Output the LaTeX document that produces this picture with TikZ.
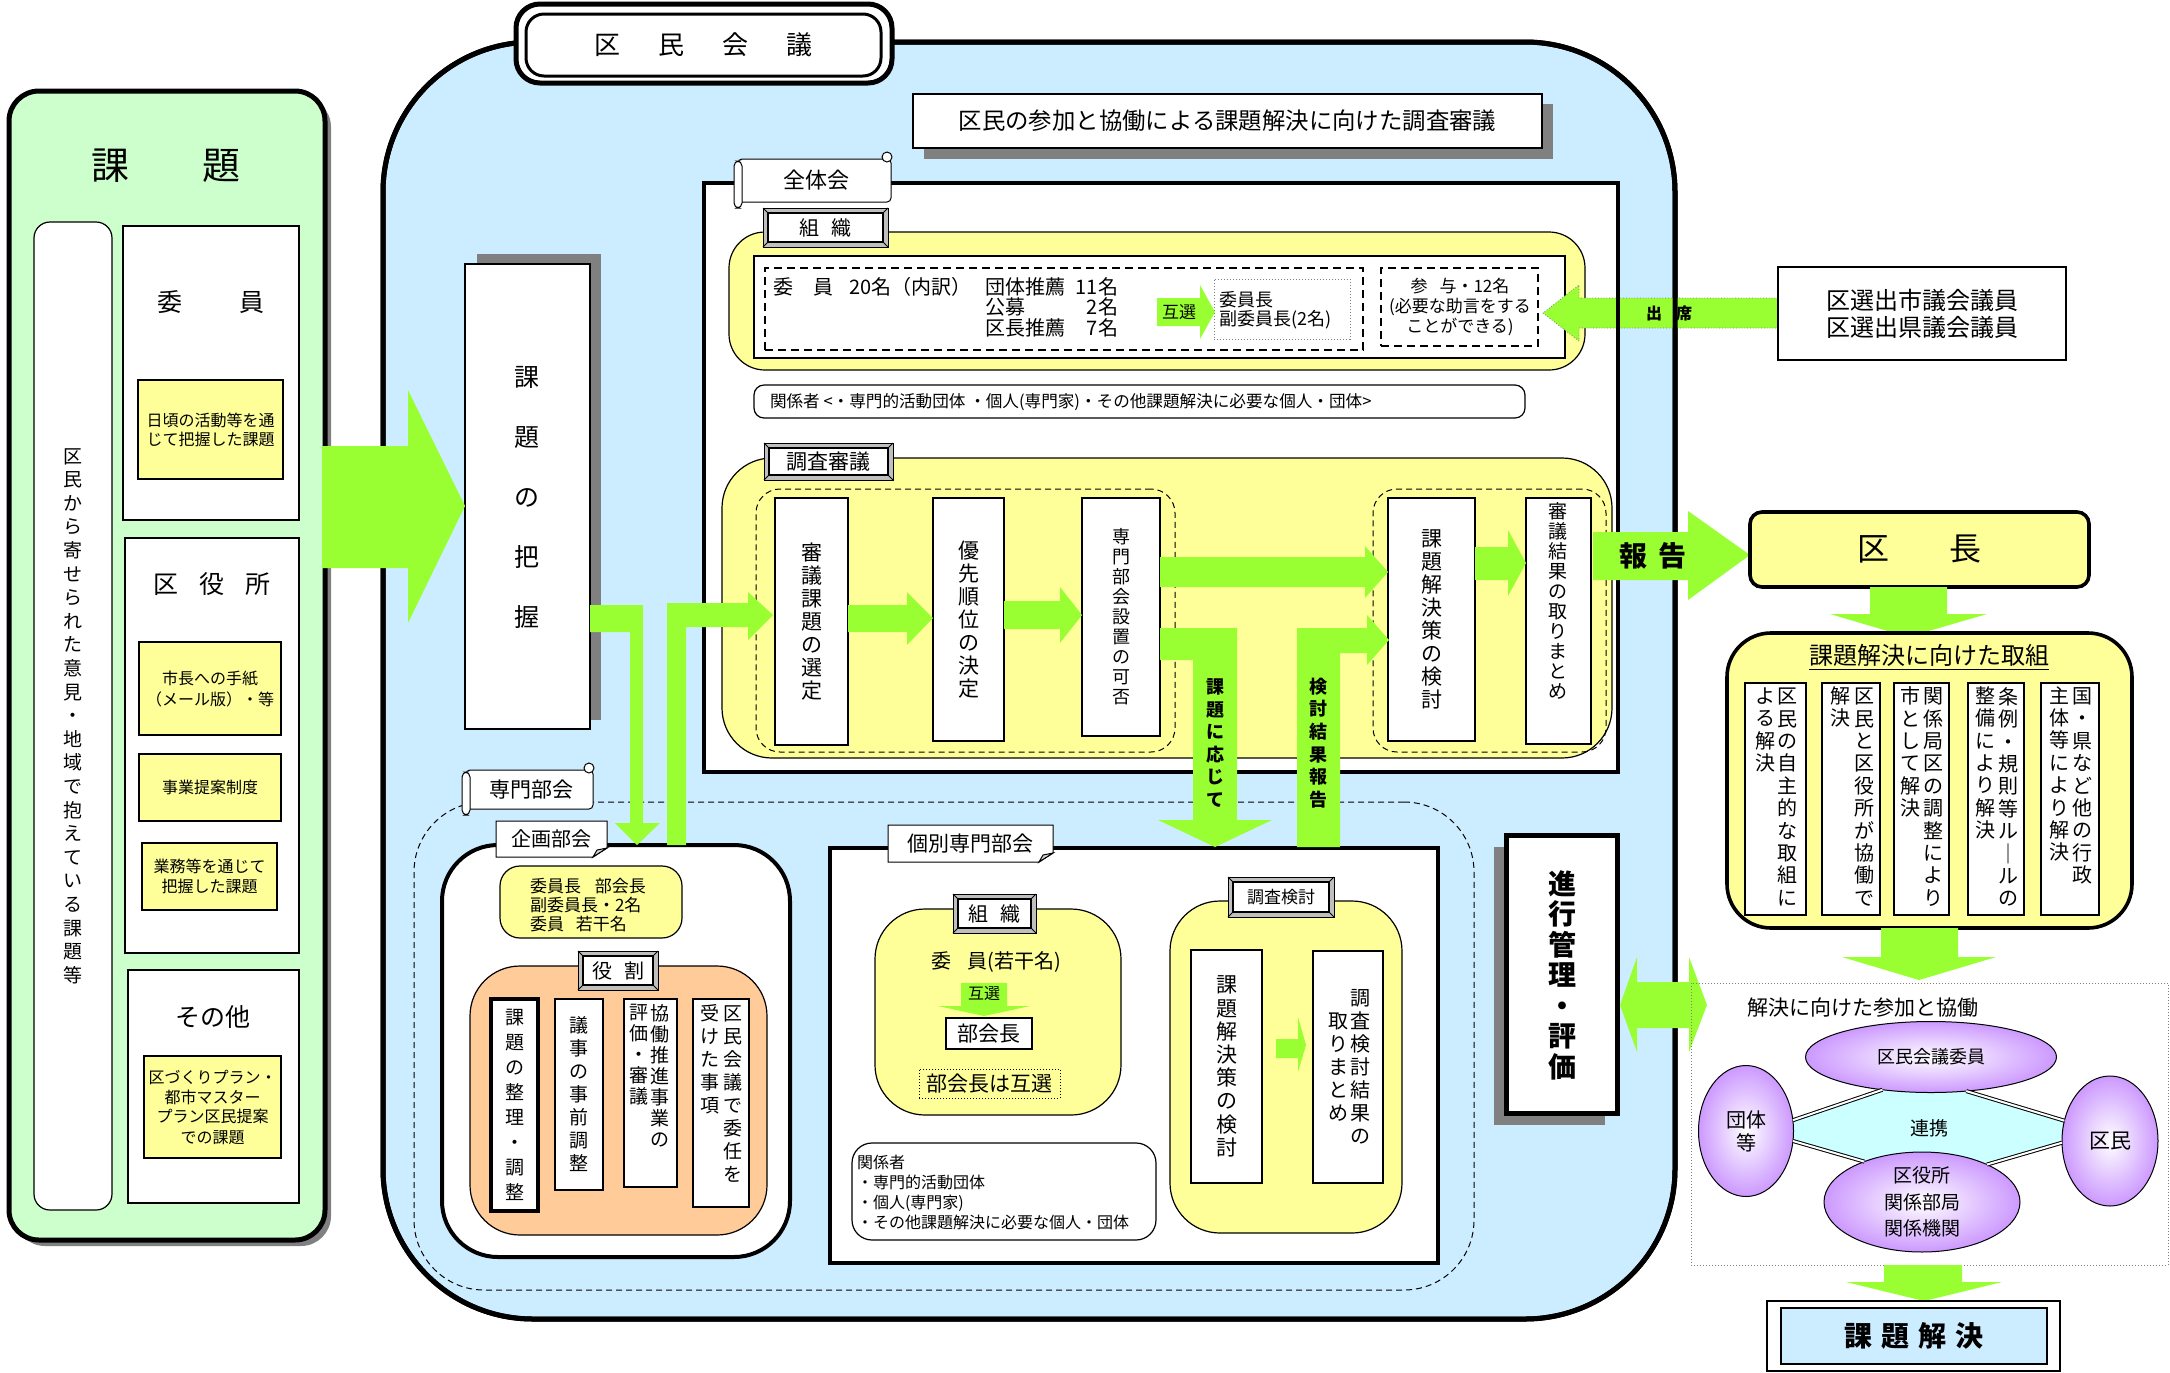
\documentclass[tikz,border=0pt]{standalone}
\usepackage{fontspec}
\setmainfont{Noto Sans CJK JP}
\usetikzlibrary{shapes.geometric}
\definecolor{grn}{RGB}{153,255,51}
\definecolor{lgreen}{RGB}{204,255,204}
\definecolor{lblue}{RGB}{204,236,255}
\definecolor{yel}{RGB}{255,255,153}
\definecolor{orng}{RGB}{255,204,153}
\definecolor{purp}{RGB}{204,153,255}
\definecolor{cyanl}{RGB}{204,255,255}
\definecolor{shad}{RGB}{128,128,128}
\makeatletter
\def\vt@aux#1{\ifx#1\relax\else\hbox to 1em{\hss#1\hss}\expandafter\vt@aux\fi}
\newcommand\vt[2][1.2em]{\vtop{\baselineskip=#1\relax\lineskiplimit=-100pt\lineskip=0pt\vt@aux#2\relax}}
\makeatother
\newcommand\fs[2]{\fontsize{#1}{#2}\selectfont}
\newcommand\Bx[7]{\node[#6, minimum width={((#4)-(#2))*0.5pt}, minimum height={((#5)-(#3))*0.5pt}] (#1) at ({((#2)+(#4))/2},{((#3)+(#5))/2}) {#7};}
\newcommand\bevellbl[6]{%
 \Bx{#1}{#2}{#3}{#4}{#5}{draw=black, fill=gray!50, line width=0.5pt}{}
 \Bx{#1in}{#2+5}{#3+5}{#4-5}{#5-5}{draw=black, fill=white, line width=0.9pt}{#6}
 \draw[line width=0.4pt] (#1.north west) -- (#1in.north west) (#1.north east) -- (#1in.north east) (#1.south west) -- (#1in.south west) (#1.south east) -- (#1in.south east);}
\newcommand\scrolllbl[6]{%
 \draw[fill=white, line width=0.5pt, rounded corners=2pt] (#2+4,#3) rectangle (#4,#5);
 \draw[fill=white, line width=0.5pt, rounded corners=2.5pt] (#2,#3+2) rectangle (#2+8,#5+6);
 \draw[fill=white, line width=0.5pt] (#4-4,#3-2) circle (2.5pt);
 \node (#1) at ({((#2)+(#4))/2+4},{((#3)+(#5))/2}) {#6};}
\newcommand\notelbl[6]{%
 \draw[fill=white, line width=0.5pt] (#2,#3) -- (#4,#3) -- (#4,#5-9) -- (#4-14,#5) -- (#2,#5) -- cycle;
 \draw[fill=gray!35, line width=0.5pt] (#4,#5-9) -- (#4-14,#5) -- (#4-10,#5-7) -- cycle;
 \node (#1) at ({((#2)+(#4))/2},{((#3)+(#5))/2}) {#6};}
\tikzset{
 every node/.style={inner sep=0pt, outer sep=0pt},
 wb/.style={draw=black, fill=white, line width=0.6pt},
 yb/.style={draw=black, fill=yel, line width=0.6pt},
 dsh/.style={draw=black, line width=0.9pt, dash pattern=on 4pt off 2.5pt},
 dashthin/.style={draw=black, line width=0.5pt, dash pattern=on 3pt off 2pt},
 dbl/.style={draw=black, double=white, double distance=1pt, line width=0.5pt},
 ell/.style={ellipse, draw=black, line width=0.5pt, inner color=white, outer color=purp},
 gar/.style={fill=grn}
}
\begin{document}
\begin{tikzpicture}[x=0.5pt,y=-0.5pt]
\useasboundingbox (0,0) rectangle (2170,1372);
\fill[white] (0,0) rectangle (2170,1372);

% ===== left: 課題 =====
\fill[shad, rounded corners=15pt] (15,97) rectangle (331,1246);
\Bx{kadai}{9}{91}{325}{1240}{draw=black, fill=lgreen, line width=2.5pt, rounded corners=15pt}{}
\node[font=\fs{19}{22}] (kadaiT) at (166,166) {課\hspace{37pt}題};
\Bx{iken}{34}{222}{112}{1210}{wb, rounded corners=8pt}{\fs{9.5}{12}\vt[11.8pt]{区民から寄せられた意見・地域で抱えている課題等}}
\Bx{iin}{123}{226}{299}{520}{wb}{}
\node[font=\fs{12.5}{15}] (iinT) at (211,302) {委\hspace{28.5pt}員};
\Bx{iinY}{138}{380}{283}{479}{yb, align=center, font=\fs{8}{9.5}}{日頃の活動等を通\\じて把握した課題}
\Bx{kuyaku}{125}{538}{299}{953}{wb}{}
\node[font=\fs{12.5}{15}] (kuyakuT) at (212,584) {区\hspace{10.5pt}役\hspace{10.5pt}所};
\Bx{ky1}{139}{642}{281}{735}{yb, align=center, font=\fs{8}{10.5}}{市長への手紙\\（メール版）・等}
\Bx{ky2}{139}{754}{281}{821}{yb, font=\fs{8}{10}}{事業提案制度}
\Bx{ky3}{142}{843}{277}{910}{yb, align=center, font=\fs{8}{10}}{業務等を通じて\\把握した課題}
\Bx{sonota}{128}{970}{299}{1203}{wb}{}
\node[font=\fs{12.5}{15}] (sonotaT) at (213,1017) {その他};
\Bx{so1}{144}{1056}{281}{1158}{yb, align=center, font=\fs{8}{10}}{区づくりプラン・\\都市マスター\\プラン区民提案\\での課題}

% ===== region 区民会議 =====
\Bx{region}{383}{42}{1675}{1319}{draw=black, fill=lblue, line width=2.5pt, rounded corners=75pt}{}
\Bx{zentai}{704}{183}{1618}{772}{draw=black, fill=white, line width=2.2pt}{}
\Bx{soshikiY}{729}{232}{1585}{370}{yb, rounded corners=18pt}{}
\Bx{soshikiW}{754}{256}{1565}{358}{wb, line width=0.8pt}{}
\Bx{memb}{765}{268}{1363}{350}{dsh}{}
\Bx{sanyo}{1381}{268}{1538}{346}{dsh}{}
\Bx{chair}{1214}{279}{1350}{339}{draw=gray, densely dotted, line width=0.5pt}{}
\node[anchor=west, font=\fs{10}{12}] (membT) at (773,287) {委\hspace{10pt}員\hspace{8pt}20名（内訳）};
\node[anchor=west, font=\fs{10}{12}] (d1) at (985,287) {団体推薦};
\node[anchor=west, font=\fs{10}{12}] (d2) at (985,307) {公募};
\node[anchor=west, font=\fs{10}{12}] (d3) at (985,328) {区長推薦};
\node[anchor=east, font=\fs{10}{12}] (n1) at (1118,287) {11名};
\node[anchor=east, font=\fs{10}{12}] (n2) at (1118,307) {2名};
\node[anchor=east, font=\fs{10}{12}] (n3) at (1118,328) {7名};
\fill[gar] (1157,298) -- (1200,298) -- (1200,285) -- (1215,312) -- (1200,339) -- (1200,326) -- (1157,326) -- cycle;
\node[font=\fs{8.5}{10}] (gosen1) at (1179,312) {互選};
\node[anchor=west, font=\fs{9}{11}] (chair1) at (1219,300) {委員長};
\node[anchor=west, font=\fs{9}{11}] (chair2) at (1219,320) {副委員長(2名)};
\node[font=\fs{8.5}{10}, align=center] (sanyoT) at (1460,307) {参\hspace{6pt}与・12名\\(必要な助言をする\\ことができる)};
\Bx{kankei}{754}{385}{1525}{418}{wb, rounded corners=5pt}{}
\node[anchor=west, font=\fs{8.3}{10}] (kankeiT) at (770,402) {関係者 <・専門的活動団体 ・個人(専門家)・その他課題解決に必要な個人・団体>};

% 出席 arrow (under the borders)
\filldraw[gar, draw=gray, densely dotted, line width=0.4pt] (1778,298) -- (1579,298) -- (1579,285) -- (1543,313) -- (1579,341) -- (1579,328) -- (1778,328) -- cycle;
\draw[line width=2.2pt] (zentai.north west) rectangle (zentai.south east);
\draw[line width=2.5pt, rounded corners=75pt] (region.north west) rectangle (region.south east);
\node[font=\fs{8}{10}\bfseries] (shusseki) at (1669,313) {出\hspace{7pt}席};

% titles
\Bx{titleO}{516}{4}{892}{83}{draw=black, fill=white, line width=2.5pt, rounded corners=12pt}{}
\Bx{title}{526}{14}{881}{76}{draw=black, fill=white, line width=1.5pt, rounded corners=9pt, font=\fs{13}{15}}{区\hspace{19pt}民\hspace{19pt}会\hspace{19pt}議}
\fill[shad] (924,104) rectangle (1553,159);
\Bx{head}{913}{94}{1542}{148}{wb, line width=0.8pt, font=\fs{11.7}{14}}{区民の参加と協働による課題解決に向けた調査審議}
\scrolllbl{zentaiL}{734}{159}{891}{202}{\fs{11}{13}全体会}
\bevellbl{soshikiL}{763}{208}{888}{247}{\fs{10}{12}組\hspace{6pt}織}

% 調査審議
\Bx{chosa}{722}{458}{1612}{758}{yb, rounded corners=25pt}{}
\Bx{dashL}{756}{489}{1175}{752}{dashthin, rounded corners=12pt}{}
\Bx{dashR}{1373}{489}{1606}{752}{dashthin, rounded corners=12pt}{}
\bevellbl{chosaL}{764}{443}{893}{480}{\fs{10.5}{12}調査審議}
\Bx{s1}{775}{498}{848}{745}{wb}{\fs{10.5}{12}\vt[11.5pt]{審議課題の選定}}
\Bx{s2}{933}{498}{1004}{741}{wb}{\fs{10.5}{12}\vt[11.5pt]{優先順位の決定}}
\Bx{s3}{1082}{498}{1160}{736}{wb}{\fs{9}{11}\vt[10pt]{専門部会設置の可否}}
\Bx{s4}{1388}{498}{1475}{741}{wb}{\fs{10.5}{12}\vt[11.5pt]{課題解決策の検討}}
\Bx{s5}{1526}{498}{1591}{744}{wb}{}
\node (s5T) at (1558,601) {\fs{9.5}{11}\vt[10pt]{審議結果の取りまとめ}};

% 課題の把握
\fill[shad] (477,254) rectangle (601,720);
\Bx{haaku}{465}{264}{590}{729}{wb, line width=0.8pt}{}
\node (haakuT) at (527,497) {\fs{12.5}{15}\vt[30pt]{課題の把握}};

% 専門部会
\Bx{senmon}{414}{802}{1474}{1290}{dashthin, rounded corners=35pt}{}
\scrolllbl{senmonL}{462}{770}{593}{809}{\fs{10.5}{12}専門部会}

% 企画部会
\Bx{kikaku}{442}{845}{790}{1257}{draw=black, fill=white, line width=2pt, rounded corners=28pt}{}
\notelbl{kikakuL}{496}{821}{607}{857}{\fs{10}{12}企画部会}
\Bx{kikakuY}{500}{866}{682}{938}{yb, rounded corners=10pt}{}
\node[anchor=west, font=\fs{8.5}{10}] (k1) at (530,886) {委員長\hspace{7pt}部会長};
\node[anchor=west, font=\fs{8.5}{10}] (k2) at (530,905) {副委員長・2名};
\node[anchor=west, font=\fs{8.5}{10}] (k3) at (530,924) {委員\hspace{6pt}若干名};
\Bx{yakuwari}{470}{966}{767}{1235}{draw=black, fill=orng, line width=0.6pt, rounded corners=25pt}{}
\bevellbl{yakuL}{578}{951}{658}{990}{\fs{10}{12}役\hspace{6pt}割}
\Bx{r1}{491}{999}{538}{1211}{draw=black, fill=white, line width=2pt}{\fs{9.5}{12}\vt[12.5pt]{課題の整理・調整}}
\Bx{r2}{555}{999}{603}{1190}{wb}{\fs{9.5}{12}\vt[11.5pt]{議事の事前調整}}
\Bx{r3}{624}{999}{677}{1187}{wb}{}
\node (r3a) at (660,1076) {\fs{9.5}{12}\vt[10.5pt]{協働推進事業の}};
\node (r3b) at (639,1055) {\fs{9.5}{12}\vt[10.5pt]{評価・審議}};
\Bx{r4}{693}{999}{749}{1207}{wb}{}
\node (r4a) at (733,1094) {\fs{9.5}{12}\vt[11.5pt]{区民会議で委任を}};
\node (r4b) at (710,1059) {\fs{9.5}{12}\vt[11.5pt]{受けた事項}};

% 個別専門部会
\Bx{kobetsu}{830}{848}{1438}{1263}{draw=black, fill=white, line width=2.2pt}{}
\notelbl{kobetsuL}{888}{825}{1053}{862}{\fs{10.5}{12}個別専門部会}
\Bx{kSoshiki}{875}{909}{1121}{1115}{yb, rounded corners=25pt}{}
\bevellbl{kSoshikiL}{953}{894}{1036}{933}{\fs{10}{12}組\hspace{6pt}織}
\node[font=\fs{10}{12}] (kIin) at (996,962) {委\hspace{8pt}員(若干名)};
\fill[gar] (961,983) -- (1007,983) -- (1007,1006) -- (1030,1006) -- (984,1016) -- (938,1006) -- (961,1006) -- cycle;
\node[font=\fs{8}{10}] (gosen2) at (984,994) {互選};
\Bx{bukaicho}{946}{1018}{1032}{1049}{wb, font=\fs{10.5}{12}}{部会長}
\Bx{bukaichoG}{919}{1069}{1060}{1098}{draw=black, densely dotted, line width=0.5pt, font=\fs{10.5}{12}}{部会長は互選}
\Bx{kKankei}{852}{1143}{1156}{1240}{wb, rounded corners=10pt}{}
\node[anchor=west, align=left, font=\fs{8}{10}] (kKankeiT) at (857,1192) {関係者\\・専門的活動団体\\・個人(専門家)\\・その他課題解決に必要な個人・団体};
\Bx{kChosa}{1170}{901}{1402}{1233}{yb, rounded corners=25pt}{}
\bevellbl{kChosaL}{1228}{877}{1334}{917}{\fs{8.5}{10}調査検討}
\Bx{kc1}{1191}{950}{1262}{1183}{wb}{\fs{10.5}{12}\vt[11.6pt]{課題解決策の検討}}
\Bx{kc2}{1313}{951}{1383}{1183}{wb}{}
\node (kc2a) at (1360,1067) {\fs{10}{12}\vt[11.5pt]{調査検討結果の}};
\node (kc2b) at (1338,1067) {\fs{10}{12}\vt[11.5pt]{取りまとめ}};
\fill[gar] (1276,1039) -- (1298,1039) -- (1298,1017) -- (1306,1045) -- (1298,1072) -- (1298,1058) -- (1276,1058) -- cycle;

% 進行管理・評価
\fill[shad] (1494,847) rectangle (1605,1125);
\Bx{shinko}{1506}{835}{1617}{1113}{draw=black, fill=white, line width=2.5pt}{}
\node (shinkoT) at (1562,975) {\fs{14}{16}\bfseries\vt[15.25pt]{進行管理・評価}};

% ===== green arrows =====
\fill[gar] (322,446) -- (408,446) -- (408,390) -- (465,506) -- (408,623) -- (408,568) -- (322,568) -- cycle;
\fill[gar] (590,605) -- (643,605) -- (643,823) -- (660,823) -- (637,845) -- (615,823) -- (630,823) -- (630,632) -- (590,632) -- cycle;
\fill[gar] (667,845) -- (667,603) -- (748,603) -- (748,592) -- (773,615) -- (748,640) -- (748,627) -- (686,627) -- (686,845) -- cycle;
\fill[gar] (848,605) -- (907,605) -- (907,592) -- (933,618) -- (907,645) -- (907,632) -- (848,632) -- cycle;
\fill[gar] (1004,601) -- (1060,601) -- (1060,587) -- (1082,615) -- (1060,643) -- (1060,629) -- (1004,629) -- cycle;
\fill[gar] (1160,557) -- (1365,557) -- (1365,546) -- (1388,572) -- (1365,598) -- (1365,587) -- (1160,587) -- cycle;
\fill[gar] (1160,628) -- (1237,628) -- (1237,820) -- (1272,820) -- (1215,847) -- (1158,820) -- (1193,820) -- (1193,660) -- (1160,660) -- cycle;
\fill[gar] (1297,847) -- (1297,628) -- (1367,628) -- (1367,615) -- (1389,640) -- (1367,665) -- (1367,653) -- (1340,653) -- (1340,847) -- cycle;
\fill[gar] (1475,547) -- (1508,547) -- (1508,530) -- (1526,563) -- (1508,596) -- (1508,580) -- (1475,580) -- cycle;
\node (ouji) at (1215,743) {\fs{9}{11}\bfseries\vt[11.3pt]{課題に応じて}};
\node (kento) at (1318,743) {\fs{9}{11}\bfseries\vt[11.3pt]{検討結果報告}};
\fill[gar] (1593,532) -- (1688,532) -- (1688,511) -- (1750,555) -- (1688,600) -- (1688,580) -- (1593,580) -- cycle;
\node[font=\fs{14}{16}\bfseries] (hokoku) at (1653,556) {報\hspace{6pt}告};
\fill[gar] (1620,1005) -- (1637,957) -- (1637,982) -- (1689,982) -- (1689,957) -- (1707,1005) -- (1689,1052) -- (1689,1028) -- (1637,1028) -- (1637,1052) -- cycle;

% ===== right side =====
\Bx{giin}{1778}{267}{2066}{360}{wb, line width=1.2pt, align=center, font=\fs{12}{13.5}}{区選出市議会議員\\区選出県議会議員}
\Bx{kucho}{1750}{512}{2089}{587}{draw=black, fill=yel, line width=1.8pt, rounded corners=6pt, font=\fs{16}{18}}{区\hspace{30pt}長}
\fill[gar] (1870,587) -- (1947,587) -- (1947,614) -- (1987,614) -- (1908,637) -- (1830,614) -- (1870,614) -- cycle;
\Bx{torikumi}{1727}{633}{2132}{928}{draw=black, fill=yel, line width=1.8pt, rounded corners=22pt}{}
\node[font=\fs{12}{14}] (torikumiT) at (1929,657) {\underline{課題解決に向けた取組}};
\Bx{t1}{1745}{683}{1806}{915}{wb}{}
\Bx{t2}{1822}{683}{1880}{915}{wb}{}
\Bx{t3}{1894}{683}{1949}{915}{wb}{}
\Bx{t4}{1968}{683}{2024}{915}{wb}{}
\Bx{t5}{2041}{683}{2099}{915}{wb}{}
\node (t1a) at (1787,797) {\fs{10}{12}\vt[11.2pt]{区民の自主的な取組に}};
\node (t1b) at (1765,730) {\fs{10}{12}\vt[11.2pt]{よる解決}};
\node (t2a) at (1864,797) {\fs{10}{12}\vt[11.2pt]{区民と区役所が協働で}};
\node (t2b) at (1840,707) {\fs{10}{12}\vt[11.2pt]{解決}};
\node (t3a) at (1933,797) {\fs{10}{12}\vt[11.2pt]{関係局区の調整により}};
\node (t3b) at (1910,752) {\fs{10}{12}\vt[11.2pt]{市として解決}};
\node (t4a) at (2008,797) {\fs{10}{12}\vt[11.2pt]{条例・規則等ル｜ルの}};
\node (t4b) at (1985,763) {\fs{10}{12}\vt[11.2pt]{整備により解決}};
\node (t5a) at (2082,786) {\fs{10}{12}\vt[11.2pt]{国・県など他の行政}};
\node (t5b) at (2059,774) {\fs{10}{12}\vt[11.2pt]{主体等により解決}};
\fill[gar] (1881,928) -- (1958,928) -- (1958,957) -- (1996,957) -- (1919,980) -- (1842,957) -- (1881,957) -- cycle;
\Bx{kyodo}{1691}{983}{2168}{1265}{draw=gray, densely dotted, line width=0.5pt}{}
\node[anchor=west, font=\fs{10.5}{12}] (kyodoT) at (1747,1008) {解決に向けた参加と協働};
\fill[cyanl] (1793,1120) -- (1883,1090) -- (1965,1090) -- (2064,1121) -- (2061,1141) -- (1987,1165) -- (1863,1161) -- (1793,1141) -- cycle;
\node[ell, minimum width=125.5pt, minimum height=35.5pt, font=\fs{9}{11}] (eIin) at (1931,1057) {区民会議委員};
\node[ell, minimum width=47.5pt, minimum height=65.5pt, font=\fs{10}{11.5}, align=center] (eDantai) at (1746,1131) {団体\\等};
\node[ell, minimum width=48pt, minimum height=65pt, font=\fs{10.5}{12}] (eKumin) at (2110,1141) {区民};
\node[ell, minimum width=98pt, minimum height=48pt, font=\fs{9.5}{13.3}, align=center] (eKuyaku) at (1922,1202) {区役所\\関係部局\\関係機関};
\draw[dbl] (eDantai.13) -- (eIin.214);
\draw[dbl] (eIin.316) -- (eKumin.156);
\draw[dbl] (eDantai.348) -- (eKuyaku.145);
\draw[dbl] (eKuyaku.30) -- (eKumin.182);
\node[font=\fs{9.5}{11}] (renkei) at (1929,1128) {連携};
\fill[gar] (1884,1265) -- (1962,1265) -- (1962,1282) -- (2002,1282) -- (1924,1301) -- (1846,1282) -- (1884,1282) -- cycle;
\Bx{kaiketsuO}{1767}{1301}{2060}{1371}{wb, line width=0.8pt}{}
\Bx{kaiketsu}{1781}{1308}{2047}{1364}{draw=black, fill=lblue, line width=1pt, font=\fs{14}{16}\bfseries}{課\hspace{4.5pt}題\hspace{4.5pt}解\hspace{4.5pt}決}
\end{tikzpicture}
\end{document}
